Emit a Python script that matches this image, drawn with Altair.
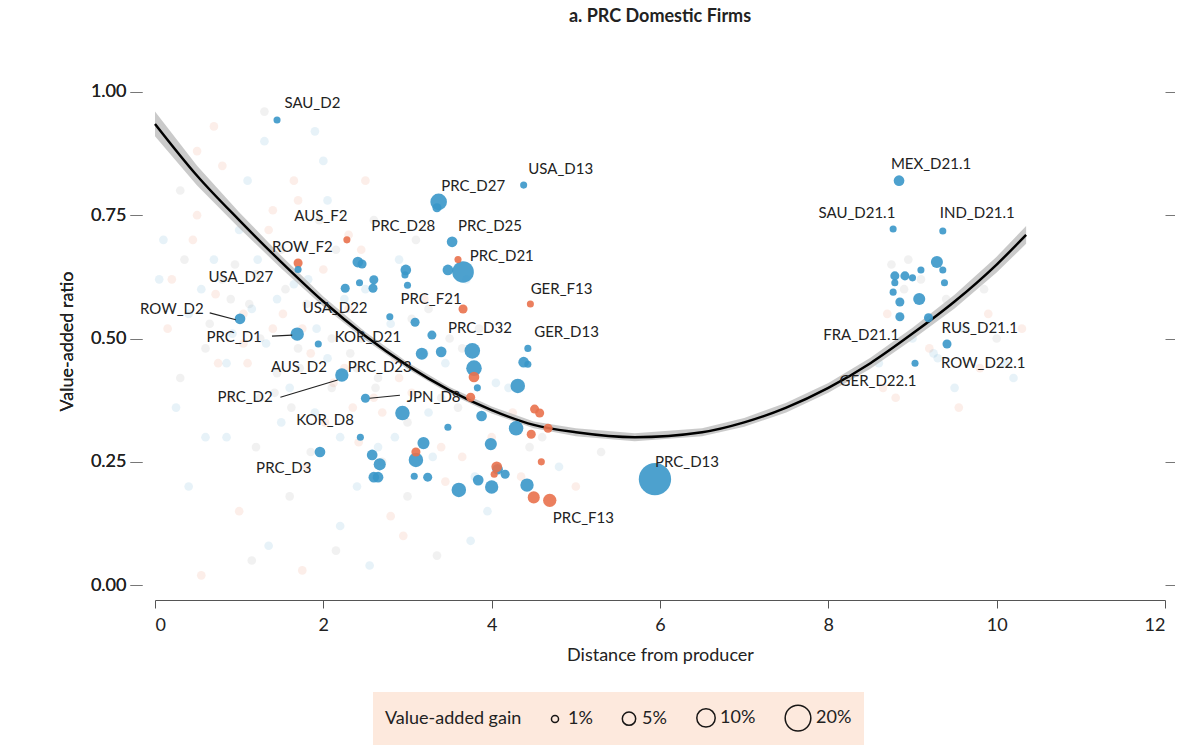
import pandas as pd
import altair as alt

BLUE = "#3a97c9"
ORANGE = "#e9714d"

# highlighted firms: x, y, value-added gain (%), colour group
hx = [1.45, 4.38, 3.37, 3.35, 2.28, 3.53, 1.70, 1.70, 3.66, 3.60, 1.01, 1.69, 1.94, 3.66, 4.46,
      3.77, 4.43, 2.22, 2.50, 1.96, 5.94, 4.69, 8.84, 8.77, 9.36, 9.41, 9.03,
      2.41, 2.46, 2.60, 2.59, 2.26, 2.43, 2.98, 2.97, 3.00, 3.48, 2.79, 3.09, 3.29, 3.17, 3.40,
      3.79, 3.83, 4.31, 4.38, 4.43, 2.94, 3.88, 4.29, 3.48, 3.19, 3.99, 2.44, 2.58, 2.67, 3.10,
      3.08, 3.24, 2.60, 2.65, 3.61, 3.84, 4.00, 4.07, 4.16, 4.42,
      8.79, 8.91, 8.79, 8.77, 8.85, 9.08, 9.10, 9.29, 9.36, 9.38, 8.85, 9.19, 9.00,
      3.79, 3.75, 3.10, 4.06, 4.03, 4.51, 4.57, 4.67, 4.47, 4.59, 4.50]
hy = [0.943, 0.811, 0.777, 0.765, 0.700, 0.696, 0.653, 0.640, 0.635, 0.660, 0.540, 0.509, 0.489, 0.560, 0.570,
      0.475, 0.480, 0.426, 0.379, 0.270, 0.215, 0.172, 0.820, 0.722, 0.718, 0.489, 0.450,
      0.655, 0.651, 0.619, 0.602, 0.602, 0.613, 0.639, 0.629, 0.608, 0.639, 0.544, 0.533, 0.507, 0.469, 0.473,
      0.440, 0.400, 0.404, 0.452, 0.448, 0.349, 0.343, 0.318, 0.320, 0.288, 0.286, 0.300, 0.264, 0.245, 0.254,
      0.221, 0.219, 0.219, 0.219, 0.193, 0.213, 0.199, 0.235, 0.225, 0.203,
      0.627, 0.627, 0.613, 0.594, 0.574, 0.580, 0.639, 0.655, 0.639, 0.613, 0.544, 0.542, 0.623,
      0.422, 0.381, 0.270, 0.240, 0.225, 0.357, 0.349, 0.318, 0.306, 0.250, 0.178]
hgain = [1, 1, 8, 2, 1, 3, 2, 1, 14, 1, 3, 5, 1, 2, 1,
         7, 1, 5, 2, 3, 32, 5, 3, 1, 1, 2, 1,
         3, 2, 2, 2, 2, 1, 3, 1, 1, 3, 1, 2, 2, 4, 3,
         7, 1, 6, 3, 1, 6, 3, 6, 1, 4, 4, 1, 3, 4, 6,
         1, 2, 3, 3, 6, 3, 5, 3, 2, 5,
         2, 2, 1, 1, 2, 4, 1, 4, 1, 1, 2, 2, 1,
         3, 2, 2, 3, 1, 2, 2, 2, 2, 1, 4]
hgroup = ["D"] * 4 + ["F"] + ["D"] + ["F", "D", "D", "F"] + ["D"] * 3 + ["F", "F"] + ["D"] * 6 + ["F"] \
         + ["D"] * 5 + ["D"] * 40 + ["D"] * 13 + ["F"] * 11

# faint background population
bx = [0.1, 0.2, 0.3, 0.4, 0.5, 0.6, 0.7, 0.8, 0.9, 1.0, 1.1, 1.2, 1.3, 1.4, 1.5, 1.6, 1.7, 1.8, 1.9, 2.0,
      2.1, 2.2, 2.3, 2.4, 2.5, 2.6, 2.7, 2.8, 2.9, 3.0, 3.2, 3.4, 3.6, 3.8, 4.0, 0.3, 0.6, 0.9, 1.2, 1.5,
      1.8, 2.1, 2.4, 2.7, 3.0, 3.3, 0.5, 0.8, 1.1, 1.4, 1.7, 2.0, 2.3, 2.6, 2.9, 3.2, 3.5, 0.4, 1.0, 1.6,
      2.2, 2.8, 3.4, 4.2, 0.7, 1.3, 1.9, 2.5, 3.1, 3.7, 1.05, 1.55, 2.05, 2.35, 1.25, 0.85, 1.75, 2.15,
      8.6, 8.7, 8.9, 9.0, 9.2, 9.4, 9.6, 9.8, 10.0, 10.2, 8.8, 9.1, 9.5, 9.9, 8.75, 9.3,
      0.15, 0.35, 0.55, 0.75, 0.95, 1.15, 1.35, 1.45, 1.65, 1.85, 1.95, 2.25, 2.45, 2.65, 2.85, 3.05,
      3.25, 3.45, 3.65, 3.85, 4.05, 4.25, 4.45, 0.25, 0.45, 0.65, 0.85, 1.05, 1.25, 1.45, 1.65, 1.85,
      2.05, 2.25, 2.45, 2.65, 2.85, 3.05, 3.25, 3.45, 3.65, 3.95, 4.35, 4.6, 4.8, 5.0, 5.3, 0.05,
      0.55, 1.15, 1.35, 1.75, 2.15, 2.55, 2.95, 3.35, 3.75, 8.65, 8.95, 9.25, 9.55, 9.85, 10.1, 10.3,
      1.12, 1.32, 1.52, 1.72, 1.92, 2.12, 2.32, 0.92, 0.72, 1.62, 1.82, 2.02, 1.42, 1.22, 2.42, 2.62]
by = [0.70, 0.62, 0.80, 0.55, 0.75, 0.48, 0.66, 0.85, 0.58, 0.72, 0.45, 0.63, 0.90, 0.52, 0.68, 0.40, 0.78, 0.57, 0.35, 0.64,
      0.50, 0.30, 0.71, 0.44, 0.60, 0.38, 0.25, 0.53, 0.42, 0.33, 0.47, 0.28, 0.36, 0.22, 0.30, 0.42, 0.30, 0.38, 0.28, 0.33,
      0.24, 0.40, 0.20, 0.35, 0.18, 0.26, 0.88, 0.62, 0.82, 0.76, 0.48, 0.86, 0.56, 0.74, 0.66, 0.58, 0.50, 0.20, 0.15, 0.18,
      0.12, 0.14, 0.38, 0.40, 0.93, 0.96, 0.92, 0.82, 0.70, 0.62, 0.55, 0.60, 0.46, 0.36, 0.50, 0.45, 0.52, 0.68,
      0.45, 0.55, 0.60, 0.50, 0.48, 0.58, 0.52, 0.44, 0.50, 0.42, 0.38, 0.62, 0.40, 0.55, 0.65, 0.46,
      0.52, 0.66, 0.60, 0.45, 0.65, 0.56, 0.72, 0.43, 0.61, 0.47, 0.74, 0.58, 0.68, 0.42, 0.30, 0.39,
      0.56, 0.45, 0.26, 0.52, 0.41, 0.35, 0.28, 0.36, 0.70, 0.53, 0.30, 0.49, 0.38, 0.58, 0.82, 0.27,
      0.78, 0.44, 0.50, 0.28, 0.46, 0.54, 0.35, 0.21, 0.48, 0.15, 0.22, 0.30, 0.24, 0.20, 0.27, 0.62,
      0.02, 0.05, 0.08, 0.03, 0.07, 0.04, 0.10, 0.06, 0.09, 0.40, 0.66, 0.47, 0.36, 0.60, 0.45, 0.52,
      0.57, 0.49, 0.55, 0.44, 0.52, 0.41, 0.47, 0.51, 0.59, 0.36, 0.62, 0.33, 0.39, 0.66, 0.29, 0.40]
bgroup = (["D", "F", "G"] * 70)[:len(bx)]

# fitted curve and confidence band
cx = [0.0, 0.5, 1.0, 1.5, 2.0, 2.5, 3.0, 3.5, 4.0, 4.5, 5.0, 5.7, 6.5, 7.0, 7.5, 8.0, 8.5, 9.0, 9.5, 10.0, 10.35]
cy = [0.935, 0.83, 0.74, 0.655, 0.575, 0.505, 0.445, 0.395, 0.355, 0.325, 0.31, 0.30, 0.31, 0.33, 0.36, 0.40, 0.45, 0.51, 0.575, 0.65, 0.71]
cw = [0.025, 0.02, 0.016, 0.013, 0.01, 0.008, 0.007, 0.007, 0.007, 0.007, 0.008, 0.008, 0.008, 0.009, 0.01, 0.01, 0.011, 0.012, 0.014, 0.016, 0.018]

labels = ["SAU_D2", "USA_D13", "PRC_D27", "AUS_F2", "PRC_D28", "PRC_D25", "ROW_F2", "PRC_D21", "USA_D27",
          "ROW_D2", "USA_D22", "PRC_F21", "GER_F13", "PRC_D1", "KOR_D21", "PRC_D32", "GER_D13", "AUS_D2",
          "PRC_D23", "PRC_D2", "JPN_D8", "KOR_D8", "PRC_D3", "PRC_D13", "PRC_F13", "MEX_D21.1", "SAU_D21.1",
          "IND_D21.1", "FRA_D21.1", "RUS_D21.1", "ROW_D22.1", "GER_D22.1"]
lx = [1.87, 4.82, 3.78, 1.97, 2.95, 3.98, 1.75, 4.12, 1.02, 0.20, 2.14, 3.28, 4.83, 0.94, 2.53, 3.86, 4.89, 1.71,
      2.67, 1.07, 3.31, 2.02, 1.53, 6.32, 5.09, 9.22, 8.34, 9.77, 8.39, 9.80, 9.84, 8.59]
ly = [0.978, 0.844, 0.809, 0.748, 0.728, 0.728, 0.686, 0.667, 0.625, 0.560, 0.562, 0.580, 0.600, 0.503, 0.503,
      0.521, 0.513, 0.442, 0.442, 0.381, 0.381, 0.335, 0.237, 0.250, 0.136, 0.854, 0.755, 0.755, 0.507, 0.521,
      0.450, 0.414]

leader_x = [0.65, 1.39, 1.49, 2.55]
leader_y = [0.552, 0.505, 0.381, 0.379]
leader_x2 = [0.96, 1.63, 2.17, 2.91]
leader_y2 = [0.538, 0.507, 0.416, 0.385]

FONT = "Lato"
xs = alt.Scale(domain=[0, 12], nice=False)
ys = alt.Scale(domain=[-0.03, 1.02], nice=False)
col = alt.Scale(domain=["D", "F", "G"], range=[BLUE, ORANGE, "#8a8a8a"])

bg = pd.DataFrame({"x": bx, "y": by, "g": bgroup})
hi = pd.DataFrame({"x": hx, "y": hy, "gain": hgain, "g": hgroup})
curve = pd.DataFrame({"x": cx, "y": cy, "lo": [a - b for a, b in zip(cy, cw)], "hi": [a + b for a, b in zip(cy, cw)]})
lab = pd.DataFrame({"x": lx, "y": ly, "t": labels})
lead = pd.DataFrame({"x": leader_x, "y": leader_y, "x2": leader_x2, "y2": leader_y2})

xax = alt.Axis(title="Distance from producer", values=[0, 2, 4, 6, 8, 10, 12], grid=False, domainColor="#555",
               tickColor="#555", tickSize=8, labelFontSize=18, titleFontSize=18, titleFontWeight="normal",
               labelPadding=8, titlePadding=12, labelColor="#222", titleColor="#222")
yax = alt.Axis(title="Value-added ratio", values=[0, 0.25, 0.5, 0.75, 1.0], format=".2f", grid=False, domain=False,
               tickColor="#777", tickSize=12, offset=13, labelFontSize=18, titleFontSize=18,
               titleFontWeight="normal", labelPadding=4, titlePadding=14, labelColor="#222", titleColor="#222")
yax_r = alt.Axis(title=None, values=[0, 0.25, 0.5, 0.75, 1.0], labels=False, grid=False, domain=False,
                 tickColor="#777", tickSize=12, offset=0, orient="right")

X = lambda f: alt.X(f, scale=xs, axis=xax)
Y = lambda f: alt.Y(f, scale=ys, axis=yax)

back = alt.Chart(bg).mark_circle(size=75, opacity=0.12).encode(
    x=X("x:Q"), y=Y("y:Q"),
    color=alt.Color("g:N", scale=col, legend=None),
)
right_axis = alt.Chart(bg).mark_circle(opacity=0).encode(
    x=X("x:Q"),
    y=alt.Y("y:Q", scale=ys, axis=yax_r),
)
band = alt.Chart(curve).mark_area(color="#bdbdbd", opacity=0.8).encode(
    x=X("x:Q"), y=Y("lo:Q"), y2="hi:Q")
line = alt.Chart(curve).mark_line(color="black", strokeWidth=2.5, interpolate="monotone").encode(
    x=X("x:Q"), y=Y("y:Q"))
pts = alt.Chart(hi).mark_circle(opacity=0.9).encode(
    x=X("x:Q"), y=Y("y:Q"),
    color=alt.Color("g:N", scale=col, legend=None),
    size=alt.Size("gain:Q", scale=alt.Scale(domain=[1, 40], range=[50, 1300], zero=False),
                  legend=alt.Legend(title="Value-added gain", values=[1, 5, 10, 20], orient="none",
                                    legendX=218, legendY=610, direction="horizontal", titleOrient="left",
                                    labelExpr="datum.label + '%'", symbolType="circle",
                                    symbolFillColor="transparent", symbolStrokeColor="black",
                                    symbolStrokeWidth=1.5, fillColor="#fde9dd", padding=12,
                                    titleFontSize=18, labelFontSize=18, titleFontWeight="normal",
                                    titleFont=FONT, labelFont=FONT, titlePadding=24, columnPadding=26,
                                    labelOffset=4, titleColor="#222", labelColor="#222",
                                    titleBaseline="middle", labelBaseline="middle")),
)
leaders = alt.Chart(lead).mark_rule(color="#222", strokeWidth=1.2).encode(
    x=X("x:Q"), y=Y("y:Q"), x2="x2:Q", y2="y2:Q")
text = alt.Chart(lab).mark_text(font=FONT, fontSize=15, color="#222").encode(
    x=X("x:Q"), y=Y("y:Q"), text="t:N")

chart = alt.layer(back, right_axis, band, line, pts, leaders, text).resolve_axis(y="independent").properties(
    width=1010, height=518,
    title=alt.Title("a. PRC Domestic Firms", font=FONT, fontSize=18, fontWeight="bold", color="#222", offset=56),
    autosize=alt.AutoSizeParams(type="none"),
    padding={"left": 147, "top": 74, "right": 10, "bottom": 145},
).configure(font=FONT, view=alt.ViewConfig(stroke=None))

chart.save("out.html", embed_options={"renderer": "svg", "actions": False})
